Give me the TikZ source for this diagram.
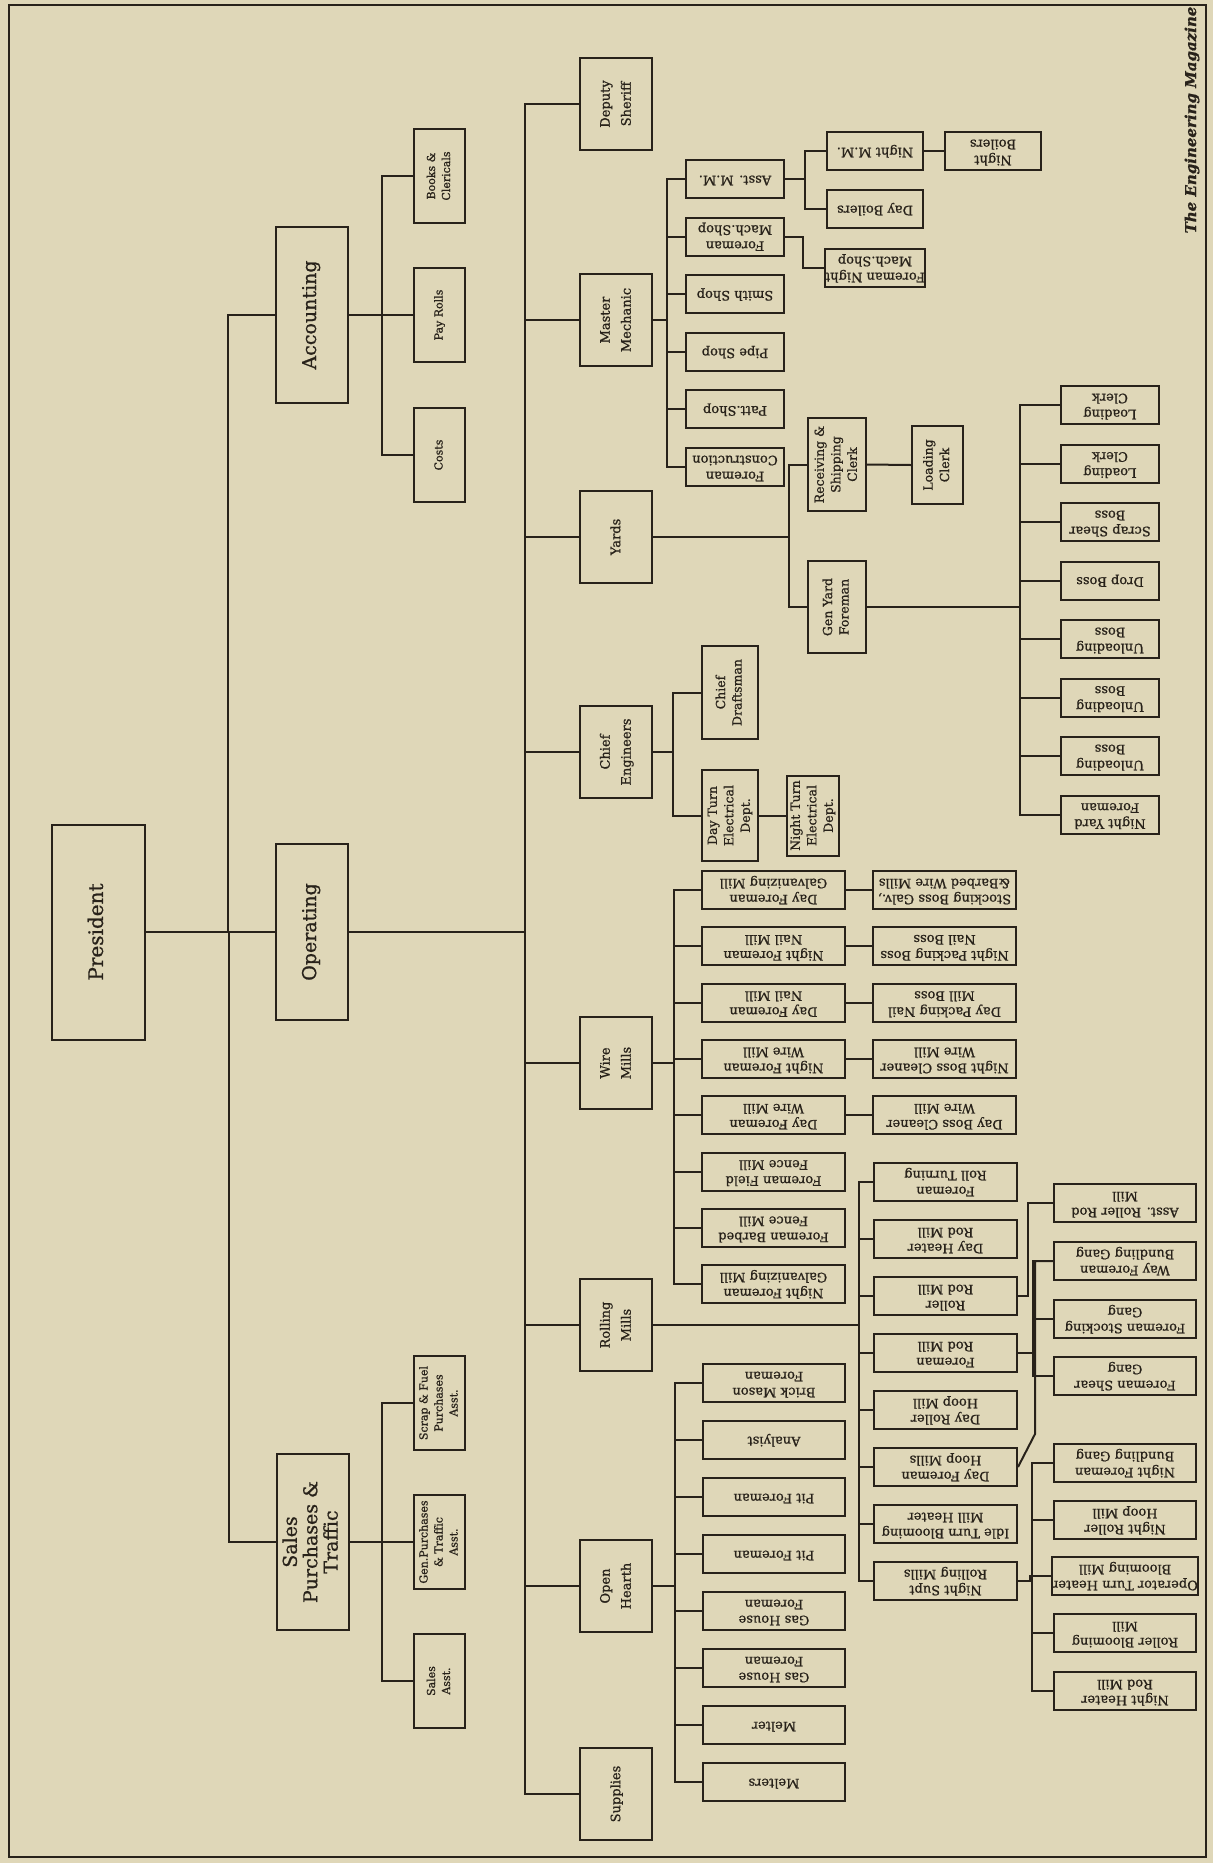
\documentclass[tikz,border=0pt]{standalone}
\usepackage{fontspec}
\setmainfont{DejaVu Serif}[FakeBold=0.9]
\usepackage{xcolor}
\usepackage{graphicx}
\usepackage{tikz}

\definecolor{paper}{RGB}{223,215,184}
\definecolor{ink}{RGB}{40,34,26}

% rotated box texts (reading upwards / upside down)
\newcommand{\up}[1]{\rotatebox{90}{\begin{tabular}{@{}c@{}}#1\end{tabular}}}
\newcommand{\dn}[1]{\rotatebox{180}{\begin{tabular}{@{}c@{}}#1\end{tabular}}}

\newcommand{\presfont}{\fontsize{20}{21}\selectfont}
\newcommand{\headfont}{\fontsize{19}{20}\selectfont}
\newcommand{\deptfont}{\fontsize{13}{21}\selectfont}
\newcommand{\clerkfont}{\fontsize{11}{15}\selectfont}
\newcommand{\leaffont}{\fontsize{13}{16}\selectfont}
\newcommand{\tallfont}{\fontsize{12.5}{16.5}\selectfont}
\newcommand{\magfont}{\fontsize{15}{18}\selectfont\bfseries\itshape}

\begin{document}
\begin{tikzpicture}[x=1pt, y=-1pt,
  box/.style={draw=ink, line width=2pt, inner sep=0pt, text=ink},
  head/.style={box, minimum width=72pt, minimum height=176pt, font=\headfont},
  dept/.style={box, minimum width=72pt, minimum height=92pt, font=\deptfont},
  clerk/.style={box, minimum width=51pt, minimum height=94pt, font=\clerkfont},
  shop/.style={box, minimum width=98pt, minimum height=38pt, font=\leaffont},
  leaf/.style={box, minimum width=143pt, minimum height=38pt, font=\leaffont},
  tall/.style={box, minimum width=58pt, minimum height=92pt, font=\tallfont},
  link/.style={draw=ink, line width=2pt}]

  \useasboundingbox (0,0) rectangle (1213,1863);
  \fill[paper] (0,0) rectangle (1213,1863);
  \draw[ink, line width=2.5pt] (9,5) rectangle (1206,1857);

  % ========== President and the three departments ==========
  \node[box, minimum width=93pt, minimum height=215pt, font=\presfont] (pres) at (98.5,932) {\up{President}};
  \node[head] (acct) at (312,315) {\up{Accounting}};
  \node[head] (oper) at (312,932) {\up{Operating}};
  \node[head] (sales) at (313,1542) {\up{Sales\\Purchases \&\\Traffic}};

  % --- Accounting ---
  \node[clerk] (books) at (439.5,176) {\up{Books \&\\Clericals}};
  \node[clerk] (payroll) at (439.5,315) {\up{Pay Rolls}};
  \node[clerk] (costs) at (439.5,455) {\up{Costs}};

  % --- Sales ---
  \node[clerk] (scrapfuel) at (439.5,1403) {\up{Scrap \& Fuel\\Purchases\\Asst.}};
  \node[clerk] (genpurch) at (439.5,1542) {\up{Gen.Purchases\\\& Traffic\\Asst.}};
  \node[clerk] (salesasst) at (439.5,1681) {\up{Sales\\Asst.}};

  % --- Operating ---
  \node[dept] (deputy) at (616,104) {\up{Deputy\\Sheriff}};
  \node[dept] (mech) at (616,320) {\up{Master\\Mechanic}};
  \node[dept] (yards) at (616,537) {\up{Yards}};
  \node[dept] (cheng) at (616,752) {\up{Chief\\Engineers}};
  \node[dept] (wire) at (616,1063) {\up{Wire\\Mills}};
  \node[dept] (rolling) at (616,1325) {\up{Rolling\\Mills}};
  \node[dept] (hearth) at (616,1586) {\up{Open\\Hearth}};
  \node[dept] (supplies) at (616,1794) {\up{Supplies}};

  % ========== Master Mechanic ==========
  \node[shop] (asstmm) at (735,179) {\dn{Asst. M.M.}};
  \node[shop] (machshop) at (735,236.6) {\dn{Foreman\\Mach.Shop}};
  \node[shop] (smith) at (735,294.2) {\dn{Smith Shop}};
  \node[shop] (pipe) at (735,351.8) {\dn{Pipe Shop}};
  \node[shop] (patt) at (735,409.4) {\dn{Patt.Shop}};
  \node[shop] (constr) at (735,467) {\dn{Foreman\\Construction}};
  \node[shop, minimum width=96pt] (nightmm) at (875,151) {\dn{Night M.M.}};
  \node[shop, minimum width=96pt] (dayboil) at (875,209) {\dn{Day Boilers}};
  \node[shop, minimum width=96pt] (nightmach) at (875,268) {\dn{Foreman Night\\Mach.Shop}};
  \node[shop, minimum width=96pt] (nightboil) at (993,151) {\dn{Night\\Boilers}};

  % ========== Yards ==========
  \node[tall, minimum height=93pt] (recv) at (837,464.5) {\up{Receiving \&\\Shipping\\Clerk}};
  \node[tall, minimum width=51pt, minimum height=78pt] (loadclerk) at (937.5,465) {\up{Loading\\Clerk}};
  \node[tall] (genyard) at (837,607) {\up{Gen Yard\\Foreman}};
  \node[shop] (yload1) at (1110,405) {\dn{Loading\\Clerk}};
  \node[shop] (yload2) at (1110,463.5) {\dn{Loading\\Clerk}};
  \node[shop] (yshear) at (1110,522) {\dn{Scrap Shear\\Boss}};
  \node[shop] (ydrop) at (1110,580.5) {\dn{Drop Boss}};
  \node[shop] (yunload1) at (1110,639) {\dn{Unloading\\Boss}};
  \node[shop] (yunload2) at (1110,697.5) {\dn{Unloading\\Boss}};
  \node[shop] (yunload3) at (1110,756) {\dn{Unloading\\Boss}};
  \node[shop] (ynight) at (1110,814.5) {\dn{Night Yard\\Foreman}};

  % ========== Chief Engineers ==========
  \node[tall, minimum width=56pt, minimum height=93pt] (draftsman) at (730,692.5) {\up{Chief\\Draftsman}};
  \node[tall, minimum width=56pt, minimum height=91pt] (dayelec) at (730,815.5) {\up{Day Turn\\Electrical\\Dept.}};
  \node[tall, minimum width=52pt, minimum height=80pt] (nightelec) at (813,815.5) {\up{Night Turn\\Electrical\\Dept.}};

  % ========== Wire Mills ==========
  \node[leaf] (wgalvday) at (773.5,890) {\dn{Day Foreman\\Galvanizing Mill}};
  \node[leaf] (wnailnight) at (773.5,946.3) {\dn{Night Foreman\\Nail Mill}};
  \node[leaf] (wnailday) at (773.5,1002.6) {\dn{Day Foreman\\Nail Mill}};
  \node[leaf] (wwirenight) at (773.5,1058.9) {\dn{Night Foreman\\Wire Mill}};
  \node[leaf] (wwireday) at (773.5,1115.2) {\dn{Day Foreman\\Wire Mill}};
  \node[leaf] (wfield) at (773.5,1171.5) {\dn{Foreman Field\\Fence Mill}};
  \node[leaf] (wbarbed) at (773.5,1227.8) {\dn{Foreman Barbed\\Fence Mill}};
  \node[leaf] (wgalvnight) at (773.5,1284.1) {\dn{Night Foreman\\Galvanizing Mill}};
  \node[leaf] (sgalv) at (944.5,890) {\dn{Stocking Boss Galv.,\\\&Barbed Wire Mills}};
  \node[leaf] (snailnight) at (944.5,946.3) {\dn{Night Packing Boss\\Nail Boss}};
  \node[leaf] (snailday) at (944.5,1002.6) {\dn{Day Packing Nail\\Mill Boss}};
  \node[leaf] (swirenight) at (944.5,1058.9) {\dn{Night Boss Cleaner\\Wire Mill}};
  \node[leaf] (swireday) at (944.5,1115.2) {\dn{Day Boss Cleaner\\Wire Mill}};

  % ========== Rolling Mills ==========
  \node[leaf] (rollturn) at (945.5,1182) {\dn{Foreman\\Roll Turning}};
  \node[leaf] (dayheat) at (945.5,1239) {\dn{Day Heater\\Rod Mill}};
  \node[leaf] (roller) at (945.5,1296) {\dn{Roller\\Rod Mill}};
  \node[leaf] (rodfm) at (945.5,1353) {\dn{Foreman\\Rod Mill}};
  \node[leaf] (hooproll) at (945.5,1410) {\dn{Day Roller\\Hoop Mill}};
  \node[leaf] (hoopfm) at (945.5,1467) {\dn{Day Foreman\\Hoop Mills}};
  \node[leaf] (idleturn) at (945.5,1524) {\dn{Idle Turn Blooming\\Mill Heater}};
  \node[leaf] (nightsupt) at (945.5,1581) {\dn{Night Supt\\Rolling Mills}};
  % third column
  \node[leaf, minimum width=142pt] (asstroll) at (1125,1203) {\dn{Asst. Roller Rod\\Mill}};
  \node[leaf, minimum width=142pt] (waybund) at (1125,1261) {\dn{Way Foreman\\Bundling Gang}};
  \node[leaf, minimum width=142pt] (stockgang) at (1125,1319) {\dn{Foreman Stocking\\Gang}};
  \node[leaf, minimum width=142pt] (sheargang) at (1125,1376) {\dn{Foreman Shear\\Gang}};
  \node[leaf, minimum width=142pt] (nightbund) at (1125,1463) {\dn{Night Foreman\\Bundling Gang}};
  \node[leaf, minimum width=142pt] (nighthoop) at (1125,1520) {\dn{Night Roller\\Hoop Mill}};
  \node[leaf, minimum width=142pt] (operturn) at (1125,1576) {\dn{Operator Turn Heater\\Blooming Mill}};
  \node[leaf, minimum width=142pt] (bloomroll) at (1125,1633) {\dn{Roller Blooming\\Mill}};
  \node[leaf, minimum width=142pt] (nightheat) at (1125,1691) {\dn{Night Heater\\Rod Mill}};

  % ========== Open Hearth ==========
  \node[leaf, minimum width=142pt] (brick) at (774,1383) {\dn{Brick Mason\\Foreman}};
  \node[leaf, minimum width=142pt] (analyist) at (774,1440) {\dn{Analyist}};
  \node[leaf, minimum width=142pt] (pit1) at (774,1497) {\dn{Pit Foreman}};
  \node[leaf, minimum width=142pt] (pit2) at (774,1554) {\dn{Pit Foreman}};
  \node[leaf, minimum width=142pt] (gas1) at (774,1611) {\dn{Gas House\\Foreman}};
  \node[leaf, minimum width=142pt] (gas2) at (774,1668) {\dn{Gas House\\Foreman}};
  \node[leaf, minimum width=142pt] (melter) at (774,1725) {\dn{Melter}};
  \node[leaf, minimum width=142pt] (melters) at (774,1782) {\dn{Melters}};

  % ========== Connectors ==========
  \draw[link] (pres.east) -- (oper.west);
  \draw[link] (acct.west) -- ++(-47,0) |- (pres.east);
  \draw[link] (sales.west) -- ++(-47,0) |- (pres.east);

  \draw[link] (acct.east) -- (payroll.west);
  \draw[link] (books.west) -- ++(-31,0) |- (acct.east);
  \draw[link] (costs.west) -- ++(-31,0) |- (acct.east);
  \draw[link] (sales.east) -- (genpurch.west);
  \draw[link] (scrapfuel.west) -- ++(-31,0) |- (sales.east);
  \draw[link] (salesasst.west) -- ++(-31,0) |- (sales.east);

  \draw[link] (deputy.west) -- ++(-54,0) |- (oper.east);
  \draw[link] (mech.west) -- ++(-54,0) |- (oper.east);
  \draw[link] (yards.west) -- ++(-54,0) |- (oper.east);
  \draw[link] (cheng.west) -- ++(-54,0) |- (oper.east);
  \draw[link] (wire.west) -- ++(-54,0) |- (oper.east);
  \draw[link] (rolling.west) -- ++(-54,0) |- (oper.east);
  \draw[link] (hearth.west) -- ++(-54,0) |- (oper.east);
  \draw[link] (supplies.west) -- ++(-54,0) |- (oper.east);

  % --- master mechanic ---
  \draw[link] (asstmm.west) -- ++(-18,0) |- (mech.east);
  \draw[link] (machshop.west) -- ++(-18,0) |- (mech.east);
  \draw[link] (smith.west) -- ++(-18,0) |- (mech.east);
  \draw[link] (pipe.west) -- ++(-18,0) |- (mech.east);
  \draw[link] (patt.west) -- ++(-18,0) |- (mech.east);
  \draw[link] (constr.west) -- ++(-18,0) |- (mech.east);
  \draw[link] (nightmm.west) -- ++(-21,0) |- (asstmm.east);
  \draw[link] (dayboil.west) -- ++(-21,0) |- (asstmm.east);
  \draw[link] (nightmach.west) -- ++(-21,0) |- (machshop.east);
  \draw[link] (nightmm.east) -- (nightboil.west);

  % --- yards ---
  \draw[link] (recv.west) -- ++(-18,0) |- (yards.east);
  \draw[link] (genyard.west) -- ++(-18,0) |- (yards.east);
  \draw[link] (recv.east) -- (loadclerk.west);
  \draw[link] (yload1.west) -- ++(-40,0) |- (genyard.east);
  \draw[link] (yload2.west) -- ++(-40,0) |- (genyard.east);
  \draw[link] (yshear.west) -- ++(-40,0) |- (genyard.east);
  \draw[link] (ydrop.west) -- ++(-40,0) |- (genyard.east);
  \draw[link] (yunload1.west) -- ++(-40,0) |- (genyard.east);
  \draw[link] (yunload2.west) -- ++(-40,0) |- (genyard.east);
  \draw[link] (yunload3.west) -- ++(-40,0) |- (genyard.east);
  \draw[link] (ynight.west) -- ++(-40,0) |- (genyard.east);

  % --- chief engineers ---
  \draw[link] (draftsman.west) -- ++(-28,0) |- (cheng.east);
  \draw[link] (dayelec.west) -- ++(-28,0) |- (cheng.east);
  \draw[link] (dayelec.east) -- (nightelec.west);

  % --- wire mills ---
  \draw[link] (wgalvday.west) -- ++(-27,0) |- (wire.east);
  \draw[link] (wnailnight.west) -- ++(-27,0) |- (wire.east);
  \draw[link] (wnailday.west) -- ++(-27,0) |- (wire.east);
  \draw[link] (wwirenight.west) -- ++(-27,0) |- (wire.east);
  \draw[link] (wwireday.west) -- ++(-27,0) |- (wire.east);
  \draw[link] (wfield.west) -- ++(-27,0) |- (wire.east);
  \draw[link] (wbarbed.west) -- ++(-27,0) |- (wire.east);
  \draw[link] (wgalvnight.west) -- ++(-27,0) |- (wire.east);
  \draw[link] (wgalvday.east) -- (sgalv.west);
  \draw[link] (wnailnight.east) -- (snailnight.west);
  \draw[link] (wnailday.east) -- (snailday.west);
  \draw[link] (wwirenight.east) -- (swirenight.west);
  \draw[link] (wwireday.east) -- (swireday.west);

  % --- rolling mills ---
  \draw[link] (rollturn.west) -- ++(-14,0) |- (rolling.east);
  \draw[link] (dayheat.west) -- ++(-14,0) |- (rolling.east);
  \draw[link] (roller.west) -- ++(-14,0) |- (rolling.east);
  \draw[link] (rodfm.west) -- ++(-14,0) |- (rolling.east);
  \draw[link] (hooproll.west) -- ++(-14,0) |- (rolling.east);
  \draw[link] (hoopfm.west) -- ++(-14,0) |- (rolling.east);
  \draw[link] (idleturn.west) -- ++(-14,0) |- (rolling.east);
  \draw[link] (nightsupt.west) -- ++(-14,0) |- (rolling.east);
  \draw[link] (roller.east) -- ++(10,0) |- (asstroll.west);
  \draw[link] (waybund.west) -- ++(-20,0) |- (rodfm.east);
  \draw[link] (stockgang.west) -- ++(-20,0) |- (rodfm.east);
  \draw[link] (sheargang.west) -- ++(-20,0) |- (rodfm.east);
  \draw[link] (hoopfm.east) -- ++(17,-33) |- (waybund.west);
  \draw[link] (nightbund.west) -- ++(-21,0) |- (nightsupt.east);
  \draw[link] (nighthoop.west) -- ++(-21,0) |- (nightsupt.east);
  \draw[link] (operturn.west) -- ++(-21,0) |- (nightsupt.east);
  \draw[link] (bloomroll.west) -- ++(-21,0) |- (nightsupt.east);
  \draw[link] (nightheat.west) -- ++(-21,0) |- (nightsupt.east);

  % --- open hearth ---
  \draw[link] (brick.west) -- ++(-27,0) |- (hearth.east);
  \draw[link] (analyist.west) -- ++(-27,0) |- (hearth.east);
  \draw[link] (pit1.west) -- ++(-27,0) |- (hearth.east);
  \draw[link] (pit2.west) -- ++(-27,0) |- (hearth.east);
  \draw[link] (gas1.west) -- ++(-27,0) |- (hearth.east);
  \draw[link] (gas2.west) -- ++(-27,0) |- (hearth.east);
  \draw[link] (melter.west) -- ++(-27,0) |- (hearth.east);
  \draw[link] (melters.west) -- ++(-27,0) |- (hearth.east);

  % magazine credit
  \node[font=\magfont, text=ink] (magazine) at (1192,120) {\rotatebox{90}{The Engineering Magazine}};

\end{tikzpicture}
\end{document}
